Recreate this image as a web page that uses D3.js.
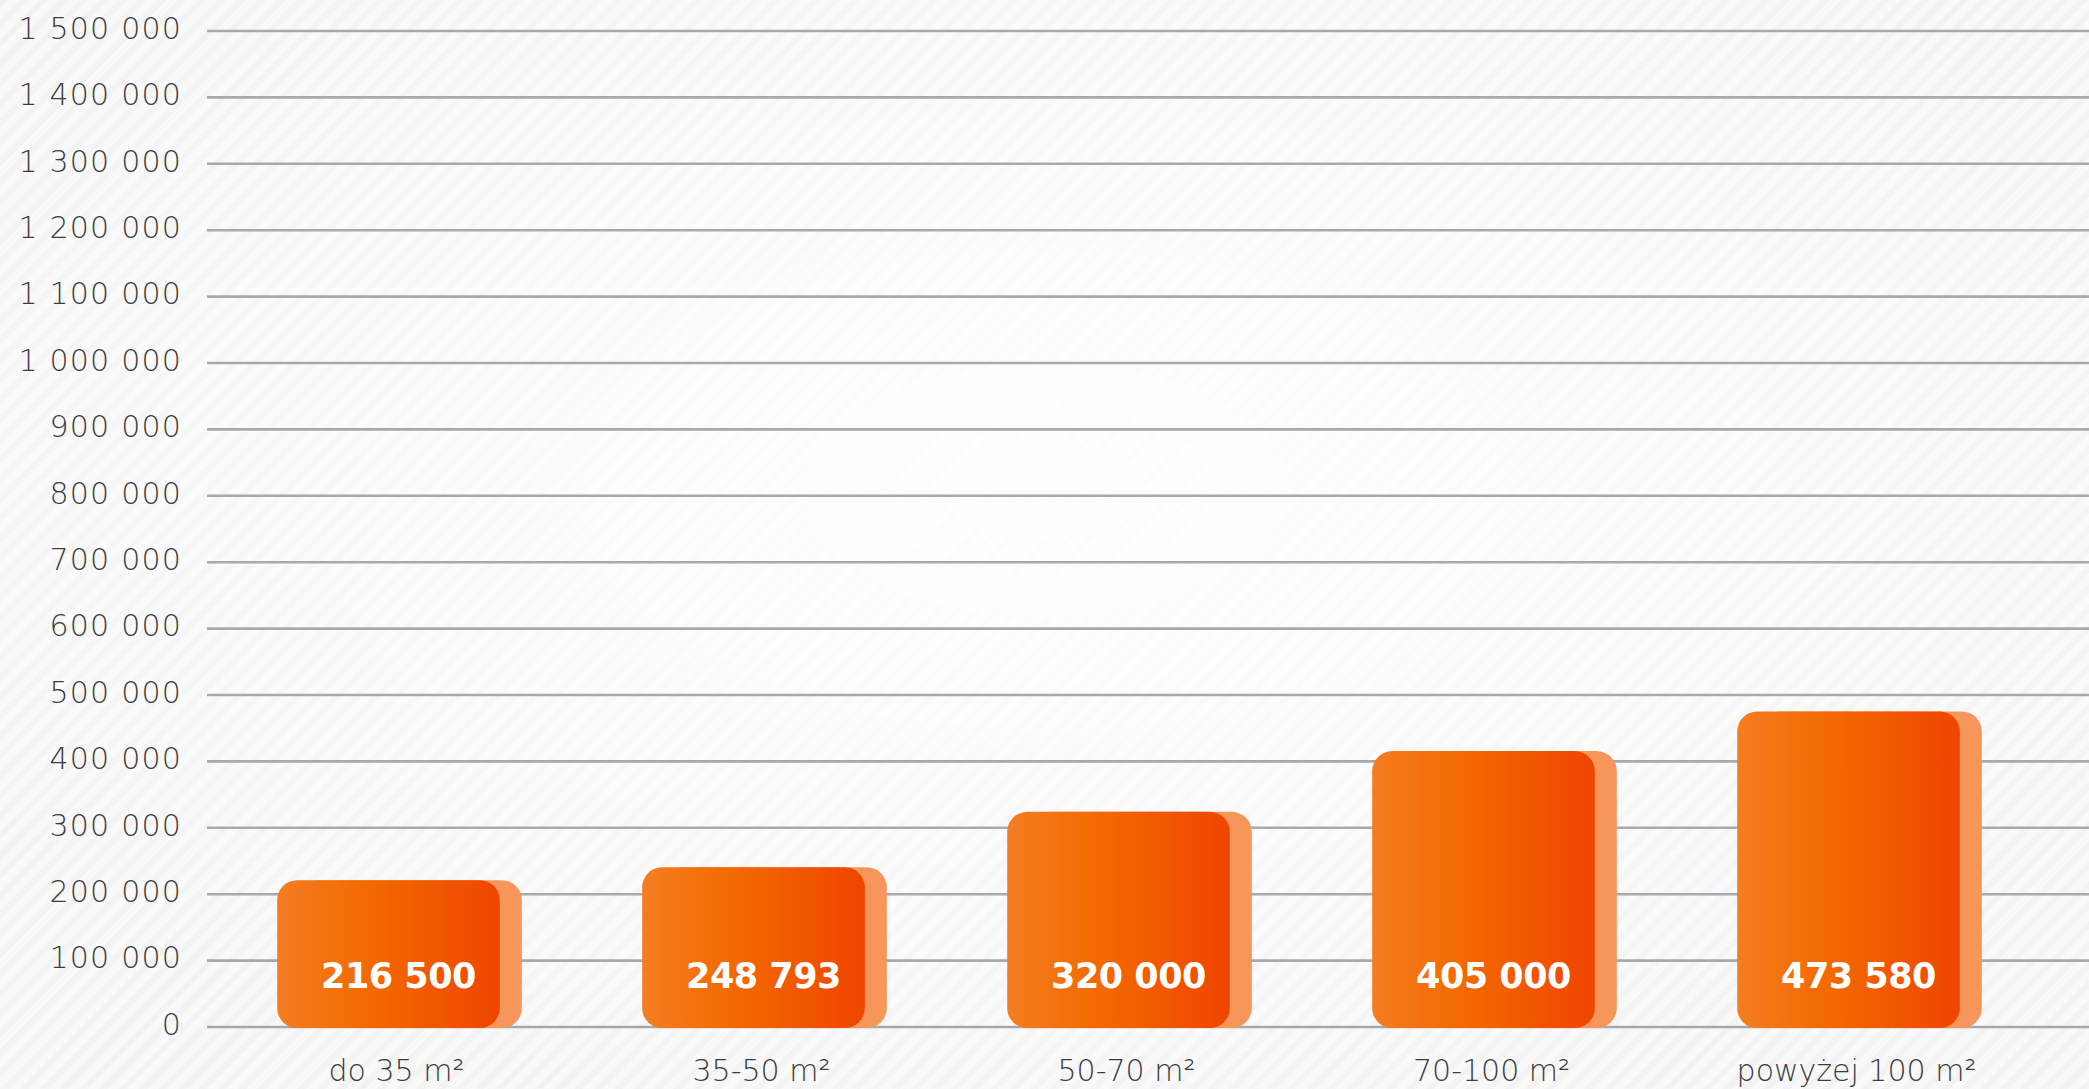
<!DOCTYPE html>
<html><head><meta charset="utf-8">
<script src="https://cdn.jsdelivr.net/npm/d3@7"></script>
<style>
html,body{margin:0;padding:0;background:#f8f8f8;}
svg{display:block;}
</style></head>
<body>
<svg id="chart" width="2089" height="1089"></svg>
<script>
const categories = ["do 35 m²", "35-50 m²", "50-70 m²", "70-100 m²", "powyżej 100 m²"];
// bar heights as drawn in the picture
const values = [221000, 240500, 324000, 415500, 475000];
// printed value labels
const valueLabels = ["216 500", "248 793", "320 000", "405 000", "473 580"];
const yTicks = [0,100000,200000,300000,400000,500000,600000,700000,800000,900000,1000000,1100000,1200000,1300000,1400000,1500000];
const yTickLabels = ["0","100 000","200 000","300 000","400 000","500 000","600 000","700 000","800 000","900 000","1 000 000","1 100 000","1 200 000","1 300 000","1 400 000","1 500 000"];

const W = 2089, H = 1089;
const svg = d3.select("#chart");
const defs = svg.append("defs");

const pat = defs.append("pattern").attr("id","stripes").attr("width",14).attr("height",14)
  .attr("patternUnits","userSpaceOnUse").attr("patternTransform","rotate(45)");
pat.append("rect").attr("width",14).attr("height",14).attr("fill","#f9f9f9");
pat.append("rect").attr("width",6).attr("height",14).attr("fill","#f3f3f3");
svg.append("rect").attr("width",W).attr("height",H).attr("fill","url(#stripes)");

const rg = defs.append("radialGradient").attr("id","glow").attr("cx","50%").attr("cy","45%").attr("r","60%");
rg.append("stop").attr("offset","0%").attr("stop-color","#ffffff").attr("stop-opacity",0.85);
rg.append("stop").attr("offset","55%").attr("stop-color","#ffffff").attr("stop-opacity",0.45);
rg.append("stop").attr("offset","100%").attr("stop-color","#ffffff").attr("stop-opacity",0);
svg.append("rect").attr("width",W).attr("height",H).attr("fill","url(#glow)");

const grad = defs.append("linearGradient").attr("id","barGrad").attr("x1","0%").attr("x2","100%").attr("y1","0%").attr("y2","0%");
grad.append("stop").attr("offset","0%").attr("stop-color","#f47d22");
grad.append("stop").attr("offset","40%").attr("stop-color","#f36a00");
grad.append("stop").attr("offset","100%").attr("stop-color","#ef4500");

const x = d3.scaleBand().domain(categories).range([206, 2031]).paddingInner(0.39).paddingOuter(0.195);
const y = d3.scaleLinear().domain([0, 1500000]).range([1027, 31]);

// gridlines
svg.append("g").selectAll("line").data(yTicks).join("line")
  .attr("x1", 207).attr("x2", W)
  .attr("y1", d => y(d)).attr("y2", d => y(d))
  .attr("stroke", "#a9a9ad").attr("stroke-width", 2.6);

// y labels
svg.append("g").selectAll("text").data(yTicks).join("text")
  .attr("x", 182).attr("y", d => y(d) - 3)
  .attr("dy", "0.36em")
  .attr("text-anchor", "end")
  .attr("font-family", "'DejaVu Sans', sans-serif")
  .attr("font-weight", 200)
  .attr("font-size", 30)
  .attr("letter-spacing", 1.2)
  .attr("fill", "#3c3c3c")
  .text((d,i) => yTickLabels[i]);

const shadowOff = 22, r = 20;
const bars = svg.append("g");
bars.selectAll("rect.sh").data(values).join("rect").attr("class","sh")
  .attr("x", (d,i) => x(categories[i]) + shadowOff)
  .attr("width", x.bandwidth())
  .attr("y", d => y(d))
  .attr("height", d => y(0) + 1 - y(d))
  .attr("rx", r).attr("ry", r)
  .attr("fill", "#f7965a");
bars.selectAll("rect.mb").data(values).join("rect").attr("class","mb")
  .attr("x", (d,i) => x(categories[i]))
  .attr("width", x.bandwidth())
  .attr("y", d => y(d))
  .attr("height", d => y(0) + 1 - y(d))
  .attr("rx", r).attr("ry", r)
  .attr("fill", "url(#barGrad)");

// value labels
svg.append("g").selectAll("text").data(values).join("text")
  .attr("x", (d,i) => x(categories[i]) + x.bandwidth()/2 + 10)
  .attr("y", y(0) - 39)
  .attr("text-anchor", "middle")
  .attr("font-family", "'DejaVu Sans', sans-serif")
  .attr("font-weight", "bold")
  .attr("font-size", 35)
  .attr("letter-spacing", -0.5)
  .attr("fill", "#fff")
  .text((d,i) => valueLabels[i]);

// x labels
svg.append("g").selectAll("text").data(categories).join("text")
  .attr("x", d => x(d) + x.bandwidth()/2 + 8)
  .attr("y", 1081)
  .attr("text-anchor", "middle")
  .attr("font-family", "'DejaVu Sans', sans-serif")
  .attr("font-weight", 200)
  .attr("font-size", 30)
  .attr("fill", "#3c3c3c")
  .text(d => d);
</script>
</body></html>
